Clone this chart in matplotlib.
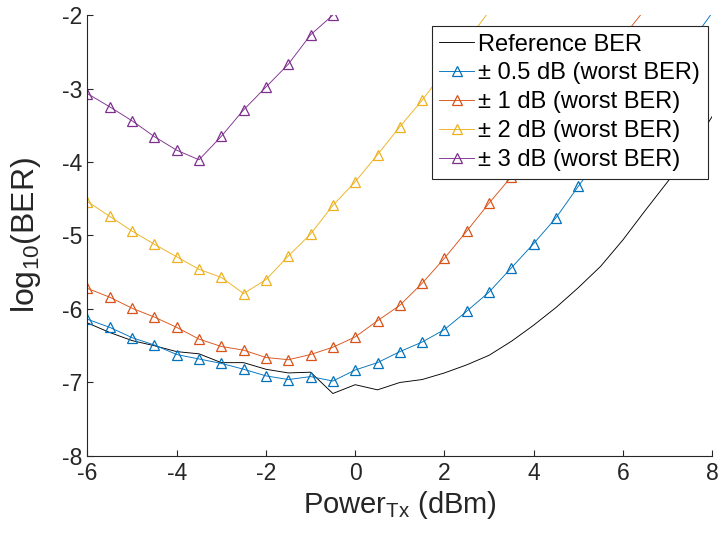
import numpy as np
import matplotlib
matplotlib.use('Agg')
import matplotlib.pyplot as plt

plt.rcParams['font.family'] = ['Liberation Sans', 'DejaVu Sans']
plt.rcParams['mathtext.fontset'] = 'custom'
plt.rcParams['mathtext.rm'] = 'Liberation Sans'
plt.rcParams['mathtext.it'] = 'Liberation Sans:italic'
plt.rcParams['axes.unicode_minus'] = False

# 發射功率 (dBm)，每 0.5 dB 一點
power_ref = np.arange(-6, 8.01, 0.5)
power_05 = np.arange(-6, 8.01, 0.5)
power_1 = np.arange(-6, 6.51, 0.5)
power_2 = np.arange(-6, 3.01, 0.5)
power_3 = np.arange(-6, -0.49, 0.5)

# log10(BER)
ber_ref = [-6.19, -6.32, -6.43, -6.50, -6.58, -6.61, -6.73, -6.73, -6.82, -6.87,
           -6.86, -7.15, -7.03, -7.10, -7.00, -6.96, -6.87, -6.76, -6.63, -6.44,
           -6.22, -5.98, -5.71, -5.42, -5.06, -4.66, -4.27, -3.87, -3.38]
ber_05 = [-6.14, -6.25, -6.39, -6.49, -6.62, -6.68, -6.74, -6.82, -6.91, -6.96,
          -6.92, -6.98, -6.83, -6.73, -6.58, -6.45, -6.28, -6.03, -5.77, -5.44,
          -5.11, -4.76, -4.33, -3.92, -3.52, -3.13, -2.76, -2.39, -1.97]
ber_1 = [-5.72, -5.84, -5.99, -6.11, -6.25, -6.41, -6.51, -6.56, -6.66, -6.69,
         -6.62, -6.52, -6.38, -6.16, -5.95, -5.65, -5.31, -4.94, -4.56, -4.20,
         -3.82, -3.44, -3.06, -2.68, -2.30, -1.92]
ber_2 = [-4.54, -4.74, -4.94, -5.12, -5.29, -5.46, -5.57, -5.79, -5.60, -5.28,
         -4.98, -4.59, -4.27, -3.90, -3.52, -3.16, -2.76, -2.36, -1.95]
ber_3 = [-3.07, -3.25, -3.44, -3.655, -3.84, -3.97, -3.65, -3.29, -2.98, -2.67,
         -2.27, -2.0]

labels = ['Reference BER', '± 0.5 dB (worst BER)', '± 1 dB (worst BER)',
          '± 2 dB (worst BER)', '± 3 dB (worst BER)']
colors = ['#0072BD', '#D95319', '#EDB120', '#7E2F8E']

xlim = (-6, 8)
ylim = (-8, -2)

fig = plt.figure(figsize=(7.23, 5.42), dpi=100)
ax = fig.add_axes([0.121, 0.1587, 0.864, 0.8136])

ax.plot(power_ref, ber_ref, color='k', lw=0.65, label=labels[0])
series = [(power_05, ber_05), (power_1, ber_1), (power_2, ber_2), (power_3, ber_3)]
for (xs, ys), c, lab in zip(series, colors, labels[1:]):
    # 只畫落在座標範圍內的標記
    mask = [ylim[0] <= v <= ylim[1] for v in ys]
    ax.plot(xs, ys, color=c, lw=0.65, marker='^', ms=6.5, mfc='none', mew=0.9,
            markevery=mask, label=lab)

ax.set_xlim(*xlim)
ax.set_ylim(*ylim)
ax.set_xticks(np.arange(-6, 8.1, 2))
ax.set_yticks(np.arange(-8, -1.9, 1))

gray = '#262626'
for s in ['top', 'right']:
    ax.spines[s].set_visible(False)
for s in ['left', 'bottom']:
    ax.spines[s].set_color(gray)
    ax.spines[s].set_linewidth(0.8)
ax.tick_params(direction='in', length=4.5, width=0.8, colors=gray,
               labelsize=16.5, pad=4)

ax.set_xlabel(r'Power$_{\mathrm{Tx}}$ (dBm)', fontsize=21, color=gray, labelpad=3)
ax.set_ylabel(r'log$_{10}$(BER)', fontsize=23, color=gray)
ax.yaxis.set_label_coords(-0.071, 0.5)

leg = ax.legend(loc='upper right', bbox_to_anchor=(0.993, 0.975), fontsize=17,
                frameon=True, fancybox=False, edgecolor=gray, framealpha=1,
                handlelength=1.45, handletextpad=0.2, labelspacing=0.29,
                borderpad=0.32, borderaxespad=0)
leg.get_frame().set_linewidth(0.8)

fig.savefig('out.png', dpi=100)
